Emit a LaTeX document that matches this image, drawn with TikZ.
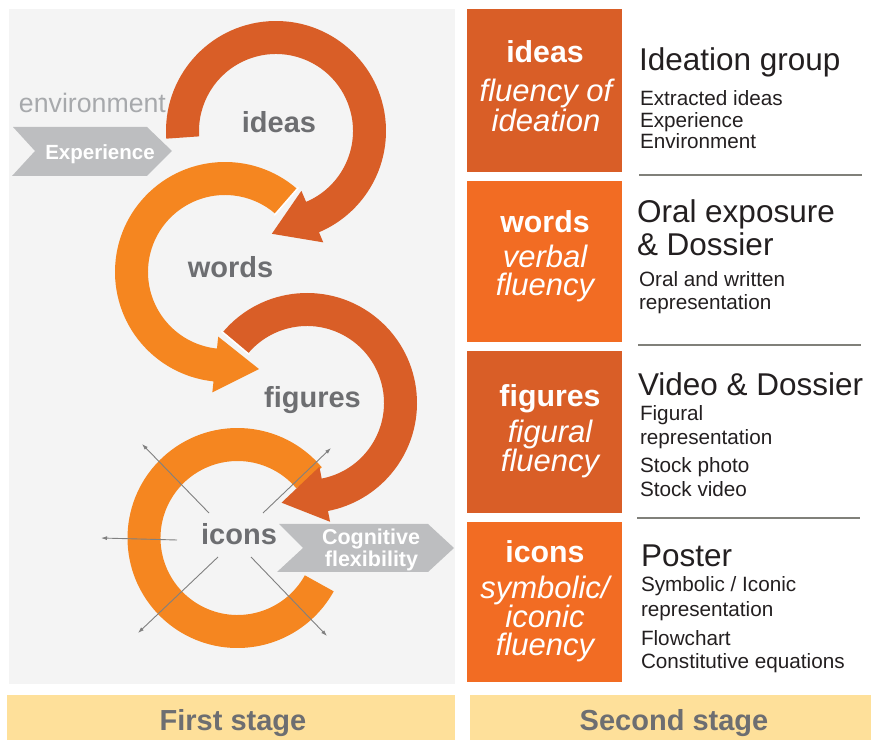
\documentclass[tikz,border=0pt]{standalone}
\usepackage{fontspec}
\setmainfont{Liberation Sans}
\usetikzlibrary{calc,arrows.meta}
\definecolor{darkor}{HTML}{D95E27}
\definecolor{brightor}{HTML}{F26C23}
\definecolor{arcorange}{HTML}{F58620}
\definecolor{panelgray}{HTML}{F4F4F4}
\definecolor{chevgray}{HTML}{BDBEC0}
\definecolor{labelgray}{HTML}{6D6E71}
\definecolor{envgray}{HTML}{A7A9AC}
\definecolor{stageyellow}{HTML}{FEE09A}
\definecolor{inkblack}{HTML}{231F20}
\definecolor{rulegray}{HTML}{80807A}
\tikzset{
every node/.style={inner sep=0pt, outer sep=0pt},
arclabel/.style={anchor=base, text=labelgray, font=\fontsize{29}{29}\selectfont\bfseries},
envtext/.style={anchor=base west, text=envgray, font=\fontsize{26.7}{27}\selectfont},
chevtext/.style={anchor=base, text=white, font=\fontsize{21.5}{22}\selectfont\bfseries},
boxtitle/.style={anchor=base, text=white, font=\fontsize{30.3}{30}\selectfont\bfseries},
boxsub/.style={anchor=base, text=white, font=\fontsize{31}{31}\selectfont\itshape},
head/.style={anchor=base west, text=inkblack, font=\fontsize{31.5}{32}\selectfont},
sub/.style={anchor=base west, text=inkblack, font=\fontsize{20.7}{21}\selectfont},
stage/.style={anchor=base, text=labelgray, font=\fontsize{29}{29}\selectfont\bfseries},
spoke/.style={draw=gray, line width=0.9pt, -{Latex[length=6pt,width=4pt]}},
cut/.style={draw=white, line width=1.6pt},
sep/.style={draw=rulegray, line width=1.1pt}
}
\begin{document}
\begin{tikzpicture}[x=1pt,y=1pt]
\useasboundingbox (0,0) rectangle (871,740);

% panels and stage bars
\fill[panelgray] (9,56) rectangle (455,731);
\fill[stageyellow] (7,0) rectangle (455,45);
\fill[stageyellow] (470,0) rectangle (871,45);
\fill[darkor] (467,568) rectangle (622,731);
\fill[brightor] (467,398) rectangle (622,559);
\fill[darkor] (467,227) rectangle (622,389);
\fill[brightor] (467,58) rectangle (622,218);

% centres of the turns
\coordinate (c1) at (276,609);
\coordinate (c2) at (225,468);
\coordinate (c3) at (307,337);
\coordinate (c4) at (237.5,202);

% icons ring
\fill[arcorange] ($(c4)+(40:110)$) arc[start angle=40, end angle=331, radius=110]
  -- ($(c4)+(331:77)$) arc[start angle=331, end angle=40, radius=77] -- cycle;

% ideas turn
\fill[darkor] ($(c1)+(184:110)$) arc[start angle=184, end angle=-67, radius=110]
  -- ($(c1)+(-67:121)$) -- ($(c1)+(-67:93)+(-157:44)$) -- ($(c1)+(-67:65)$)
  -- ($(c1)+(-67:77)$) arc[start angle=-67, end angle=184, radius=77] -- cycle;

% words turn
\fill[arcorange] ($(c2)+(49:110)$) arc[start angle=49, end angle=264, radius=110]
  -- ($(c2)+(264:121)$) -- ($(c2)+(264:93)+(354:44)$) -- ($(c2)+(264:65)$)
  -- ($(c2)+(264:77)$) arc[start angle=264, end angle=49, radius=77] -- cycle;
\draw[cut] ($(c2)+(49:75)$) -- ($(c2)+(49:112)$);

% figures turn
\fill[darkor] ($(c3)+(140:110)$) arc[start angle=140, end angle=-79, radius=110]
  -- ($(c3)+(-79:121)$) -- ($(c3)+(-79:93)+(-169:44)$) -- ($(c3)+(-79:65)$)
  -- ($(c3)+(-79:77)$) arc[start angle=-79, end angle=140, radius=77] -- cycle;
\draw[cut] ($(c3)+(140:75)$) -- ($(c3)+(140:112)$);

% spokes round icons
\coordinate (s1) at (209,227); \coordinate (e1) at (142,296);
\coordinate (s2) at (263,227); \coordinate (e2) at (331,292);
\coordinate (s3) at (177,200); \coordinate (e3) at (101,202);
\coordinate (s4) at (218,183); \coordinate (e4) at (138,107);
\coordinate (s5) at (251,183); \coordinate (e5) at (327,104);
\draw[spoke] (s1) -- (e1);
\draw[spoke] (s2) -- (e2);
\draw[spoke] (s3) -- (e3);
\draw[spoke] (s4) -- (e4);
\draw[spoke] (s5) -- (e5);

% chevrons
\fill[chevgray] (13,613) -- (147,613) -- (172,589) -- (147,564) -- (12,564) -- (35,589) -- cycle;
\fill[chevgray] (279,216) -- (428,216) -- (454,192) -- (428,168) -- (277,168) -- (303,192) -- cycle;
\node[chevtext, font=\fontsize{20.5}{21}\selectfont\bfseries] (exp) at (100,580) {Experience};
\node[chevtext] (cog) at (371,195) {Cognitive};
\node[chevtext] (flex) at (371.5,173) {flexibility};

% first stage labels
\node[envtext] (env) at (19,627) {environment};
\node[arclabel] (ideasL) at (279,607) {ideas};
\node[arclabel] (wordsL) at (230.5,462) {words};
\node[arclabel] (figuresL) at (312.5,332) {figures};
\node[arclabel] (iconsL) at (239,195) {icons};

% second stage boxes
\node[boxtitle] (ideasB) at (545,677) {ideas};
\node[boxsub] (ideasB1) at (546,638) {fluency of};
\node[boxsub] (ideasB2) at (546,608) {ideation};
\node[boxtitle] (wordsB) at (545,507) {words};
\node[boxsub] (wordsB1) at (545,472) {verbal};
\node[boxsub] (wordsB2) at (545,444) {fluency};
\node[boxtitle] (figuresB) at (550,333) {figures};
\node[boxsub] (figuresB1) at (550,297) {figural};
\node[boxsub] (figuresB2) at (550,268) {fluency};
\node[boxtitle] (iconsB) at (545,178) {icons};
\node[boxsub] (iconsB1) at (545,142) {symbolic/};
\node[boxsub] (iconsB2) at (545,113) {iconic};
\node[boxsub] (iconsB3) at (545,85) {fluency};

% outputs
\node[head] (ideation) at (639,669) {Ideation group};
\node[sub] (ext) at (640,634) {Extracted ideas};
\node[sub] (expr) at (640,612) {Experience};
\node[sub] (envr) at (640,591) {Environment};
\draw[sep] (639,565) -- (862,565);
\node[head] (oral) at (637,517) {Oral exposure};
\node[head] (doss) at (637,484) {\& Dossier};
\node[sub] (oralw) at (639,453) {Oral and written};
\node[sub] (repw) at (639,430) {representation};
\draw[sep] (638,395) -- (861,395);
\node[head] (video) at (638,344) {Video \& Dossier};
\node[sub] (fig) at (640,319) {Figural};
\node[sub] (repf) at (640,295) {representation};
\node[sub] (photo) at (640,267) {Stock photo};
\node[sub] (svid) at (640,243) {Stock video};
\draw[sep] (637,222) -- (860,222);
\node[head] (poster) at (641,173) {Poster};
\node[sub] (symb) at (641,148) {Symbolic / Iconic};
\node[sub] (repi) at (641,124) {representation};
\node[sub] (flow) at (641,95) {Flowchart};
\node[sub] (const) at (641,72) {Constitutive equations};

% stage labels
\node[stage] (first) at (233,10) {First stage};
\node[stage] (second) at (674,10) {Second stage};
\end{tikzpicture}
\end{document}
